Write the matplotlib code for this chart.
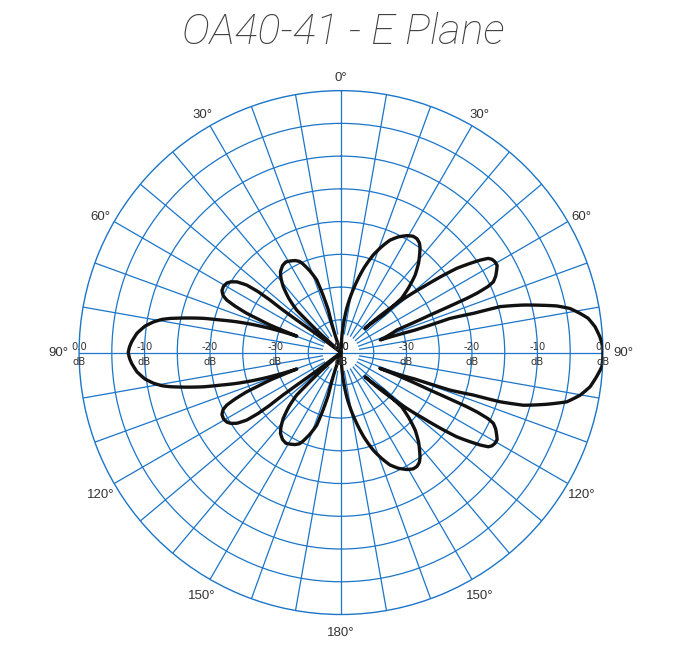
import numpy as np
import matplotlib
matplotlib.use("Agg")
from matplotlib import pyplot as plt

plt.rcParams["path.simplify"] = False

# ---- pattern: (angle deg clockwise from top, level dB) ----
# -40 dB is the plot centre (the floor), lobes listed clockwise from 0 deg
lobe_c_deg = [2.8, 2.8, 7.35, 12.5, 15.2, 18.3, 20.8, 23.5, 26.3, 29.4, 31.8, 33.7, 35.5,
              36.9, 38.1, 40.9, 43.7, 46.1, 48.2, 48.4, 44.8]
lobe_c_db = [-40.0, -37.8, -33.2, -28.9, -26.6, -24.3, -22.8, -21.3, -20.3, -19.5, -19.1,
             -19.1, -19.4, -19.9, -20.5, -21.9, -23.6, -25.6, -27.6, -31.4, -34.8]

lobe_b_deg = [47.95, 51.4, 53.95, 56.4, 57.4, 58.3, 59.5, 60.85, 62.1, 63.7, 65.1, 65.8,
              66.4, 66.7, 67.15, 68.0, 72.2]
lobe_b_db = [-29.9, -23.9, -18.15, -14.5, -13.3, -12.9, -12.7, -12.7, -13.1, -13.65, -14.35,
             -15.4, -17.3, -19.1, -25.25, -30.8, -33.7]

lobe_a_deg = [73.1, 72.6, 73.5, 73.9, 75.4, 76.6, 77.8, 79.1, 80.7, 82.1, 84.2, 86.5, 88.7,
              91.0, 93.1, 95.4, 97.8, 100.1, 102.3, 104.1, 106.1, 107.2, 107.8, 109.0,
              109.7, 112.05]
lobe_a_db = [-28.2, -22.6, -18.9, -14.7, -11.2, -8.8, -6.3, -4.4, -3.0, -1.9, -1.0, -0.4,
             0.0, 0.0, -0.1, -0.8, -1.6, -2.9, -4.7, -7.6, -11.0, -14.6, -18.8, -22.4,
             -28.0, -33.6]

lobe_j_deg = [112.0, 112.85, 113.3, 113.6, 114.2, 114.9, 116.3, 117.9, 119.15, 120.5, 121.7,
              122.6, 123.6, 126.05, 128.6, 132.05, 135.2]
lobe_j_db = [-30.8, -25.25, -19.1, -17.3, -15.4, -14.35, -13.65, -13.1, -12.7, -12.7, -12.9,
             -13.3, -14.5, -18.15, -23.9, -29.9, -34.8]

lobe_i_deg = [131.6, 131.8, 133.9, 136.3, 139.1, 141.9, 143.1, 144.5, 146.3, 148.2, 150.6,
              153.7, 156.5, 159.2, 161.7, 164.8, 167.5, 172.65, 177.2, 177.2]
lobe_i_db = [-31.4, -27.6, -25.6, -23.6, -21.9, -20.5, -19.9, -19.4, -19.1, -19.1, -19.5,
             -20.3, -21.3, -22.8, -24.3, -26.6, -28.9, -33.2, -37.8, -40.0]

lobe_h_deg = [199.0, 199.0, 196.6, 197.4, 198.5, 200.8, 203.2, 204.5, 206.5, 209.1, 211.3,
              213.9, 216.9, 218.9, 221.2, 223.9, 226.2, 226.8, 227.6, 227.6]
lobe_h_db = [-40.0, -38.0, -33.2, -30.8, -28.3, -26.7, -25.3, -24.7, -24.3, -24.0, -23.8,
             -24.0, -24.6, -25.4, -26.6, -28.5, -30.6, -33.0, -35.7, -40.0]

lobe_g_deg = [233.04, 233.04, 233.7, 233.8, 233.5, 233.7, 234.4, 235.8, 237.3, 238.6, 240.5,
              242.5, 244.2, 245.3, 246.3, 247.4, 248.0, 248.8, 249.4, 249.6]
lobe_g_db = [-40.0, -36.0, -31.6, -29.0, -26.5, -24.3, -22.3, -20.8, -20.0, -19.6, -19.4,
             -19.5, -20.0, -20.8, -22.3, -24.4, -26.4, -28.4, -31.7, -32.8]

lobe_f_deg = [251.2, 252.35, 253.55, 254.9, 256.05, 257.4, 258.7, 259.5, 260.7, 262.3, 264.6,
              267.0, 268.4, 270.0, 271.6, 273.0, 275.4, 277.7, 279.3, 280.5, 281.3, 282.6,
              283.95, 285.1, 286.45, 287.65, 288.8, 290.4]
lobe_f_db = [-28.5, -25.9, -23.4, -20.9, -18.3, -15.8, -13.4, -12.2, -11.0, -9.8, -8.7,
             -8.0, -7.7, -7.5, -7.7, -8.0, -8.7, -9.8, -11.0, -12.2, -13.4, -15.8,
             -18.3, -20.9, -23.4, -25.9, -28.5, -32.8]

lobe_e_deg = [290.6, 291.2, 292.0, 292.6, 293.7, 294.7, 295.8, 297.5, 299.5, 301.4, 302.7,
              304.2, 305.6, 306.3, 306.5, 306.2, 306.3, 306.96, 306.96]
lobe_e_db = [-31.7, -28.4, -26.4, -24.4, -22.3, -20.8, -20.0, -19.5, -19.4, -19.6, -20.0,
             -20.8, -22.3, -24.3, -26.5, -29.0, -31.6, -36.0, -40.0]

lobe_d_deg = [312.4, 312.4, 313.2, 313.8, 316.1, 318.8, 321.1, 323.1, 326.1, 328.7, 330.9,
              333.5, 335.5, 336.8, 339.2, 341.5, 342.6, 343.4, 341.0, 341.0]
lobe_d_db = [-40.0, -35.7, -33.0, -30.6, -28.5, -26.6, -25.4, -24.6, -24.0, -23.8, -24.0,
             -24.3, -24.7, -25.3, -26.7, -28.3, -30.8, -33.2, -38.0, -40.0]

ring_levels = [-35, -30, -25, -20, -15, -10, -5]
db_label_levels = [0, -10, -20, -30, -40]
db_label_text = ["0.0", "-10", "-20", "-30", "0.0"]
angle_label_pos = [0, 30, 60, 90, 120, 150, 180, 210, 240, 270, 300, 330]
angle_label_text = ["0°", "30°", "60°", "90°", "120°", "150°", "180°", "150°", "120°", "90°", "60°", "30°"]

blue = "#1b75c9"
txt = "#333333"

pattern_deg = (lobe_c_deg + lobe_b_deg + lobe_a_deg + lobe_j_deg + lobe_i_deg
               + lobe_h_deg + lobe_g_deg + lobe_f_deg + lobe_e_deg + lobe_d_deg)
pattern_db = (lobe_c_db + lobe_b_db + lobe_a_db + lobe_j_db + lobe_i_db
              + lobe_h_db + lobe_g_db + lobe_f_db + lobe_e_db + lobe_d_db)

fig = plt.figure(figsize=(6.77, 6.54), dpi=100)
ax = fig.add_axes([0.1167, 0.0604, 0.774, 0.801], projection="polar")
ax.set_theta_zero_location("N")
ax.set_theta_direction(-1)
ax.set_ylim(-40, 0)
ax.set_xticks([])
ax.set_yticks(ring_levels)
ax.set_yticklabels([])
ax.yaxis.grid(True, color=blue, lw=0.9)
ax.spines["polar"].set_color(blue)
ax.spines["polar"].set_linewidth(1.0)

# spokes every 10 deg, the axes through the centre, the rest stop short of it
for a in range(0, 360, 10):
    r0 = -40 if a % 90 == 0 else -37.1
    ax.plot([np.radians(a)] * 2, [r0, 0], color=blue, lw=0.9, zorder=1)

ln, = ax.plot(np.radians(pattern_deg), pattern_db, color="#111111", lw=2.4,
              solid_joinstyle="round", solid_capstyle="round", zorder=3)
ln.get_path()._interpolation_steps = 6

# dB labels along the 90-270 line
for side in (90, 270):
    for lev, s in zip(db_label_levels, db_label_text):
        ax.annotate(s, xy=(np.radians(side), lev), xytext=(0, 0.5), textcoords="offset points",
                    ha="center", va="bottom", fontsize=7.2, color=txt, zorder=4)
        ax.annotate("dB", xy=(np.radians(side), lev), xytext=(0, -3), textcoords="offset points",
                    ha="center", va="top", fontsize=7.2, color=txt, zorder=4)

for a, s in zip(angle_label_pos, angle_label_text):
    r = 3.1 if a in (90, 270) else 2.4
    dy = 0 if a in (90, 270) else -2.3
    ax.annotate(s, xy=(np.radians(a), r), xytext=(0, dy), textcoords="offset points",
                ha="center", va="center", fontsize=9.5, color=txt, family="Liberation Sans",
                annotation_clip=False)

fig.text(0.507, 0.951, "OA40-41 - E Plane", ha="center", va="center", fontsize=31,
         style="italic", weight="light", color="#3f3f3f", family="Roboto")

plt.savefig("out.png", dpi=100)
